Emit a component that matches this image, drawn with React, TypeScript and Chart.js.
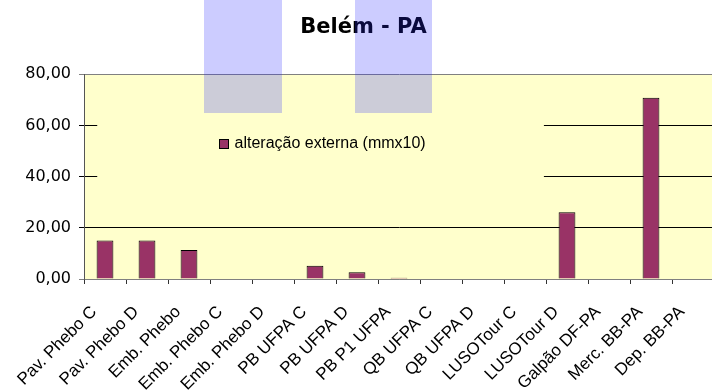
import React, { useEffect, useRef } from "react";
import { Chart, registerables } from "chart.js";

Chart.register(...registerables);

const chartTitle = "Belém - PA";
const seriesLabel = "alteração externa (mmx10)";
const categories = [
  "Pav. Phebo C",
  "Pav. Phebo D",
  "Emb. Phebo",
  "Emb. Phebo C",
  "Emb. Phebo D",
  "PB UFPA C",
  "PB UFPA D",
  "PB P1 UFPA",
  "QB UFPA C",
  "QB UFPA D",
  "LUSOTour C",
  "LUSOTour D",
  "Galpão DF-PA",
  "Merc. BB-PA",
  "Dep. BB-PA",
];
const values = [15, 15, 11.3, 0, 0, 5.2, 2.6, 0.5, 0, 0, 0, 26.1, 0, 70.8, 0];
const yMin = 0;
const yMax = 80;
const yStep = 20;

// translucent boxes that sit over the source picture (data units)
const overlayXFrom = [2.36, 5.95];
const overlayXTo = [4.21, 7.79];
const overlayYFrom = [64.8, 65];

const barColor = "#993366";
const plotColor = "#FFFFCC";

export default function App() {
  const ref = useRef<HTMLCanvasElement>(null);

  useEffect(() => {
    if (!ref.current) return;

    const plotBg = {
      id: "plotBg",
      beforeDraw(chart: any) {
        const { ctx, chartArea: a } = chart;
        ctx.save();
        ctx.fillStyle = plotColor;
        ctx.fillRect(a.left, a.top, a.right - a.left, a.bottom - a.top);
        ctx.restore();
      },
    };

    const legendBox = {
      id: "legendBox",
      beforeDatasetsDraw(chart: any) {
        const { ctx, chartArea: a } = chart;
        const w = a.right - a.left;
        const h = a.bottom - a.top;
        const bx0 = a.left + w * 0.021;
        const bx1 = a.left + w * 0.73;
        const by0 = a.top + h * 0.215;
        const by1 = a.top + h * 0.537;
        ctx.save();
        ctx.fillStyle = plotColor;
        ctx.fillRect(bx0, by0, bx1 - bx0, by1 - by0);
        const sx = Math.round(a.left + w * 0.214) + 0.5;
        const cy = a.top + h * 0.336;
        const sy = Math.round(cy - 4.5) + 0.5;
        ctx.fillStyle = barColor;
        ctx.fillRect(sx, sy, 9, 9);
        ctx.strokeStyle = "#000";
        ctx.lineWidth = 1;
        ctx.strokeRect(sx, sy, 9, 9);
        ctx.fillStyle = "#000";
        ctx.font = "16px 'Liberation Sans', Arial, sans-serif";
        ctx.textBaseline = "middle";
        ctx.textAlign = "left";
        ctx.fillText(seriesLabel, sx + 15, cy + 1);
        ctx.restore();
      },
    };

    const overlay = {
      id: "overlay",
      afterDraw(chart: any) {
        const { ctx } = chart;
        const xs = chart.scales.x;
        const ys = chart.scales.y;
        ctx.save();
        ctx.fillStyle = "rgba(42,42,255,0.24)";
        for (let i = 0; i < overlayXFrom.length; i++) {
          const x0 = Math.round(xs.getPixelForValue(overlayXFrom[i]));
          const x1 = Math.round(xs.getPixelForValue(overlayXTo[i]));
          const y1 = Math.round(ys.getPixelForValue(overlayYFrom[i]));
          ctx.fillRect(x0, 0, x1 - x0, y1);
        }
        ctx.restore();
      },
    };

    const chart = new Chart(ref.current, {
      type: "bar",
      data: {
        labels: categories,
        datasets: [
          {
            label: seriesLabel,
            data: values,
            backgroundColor: barColor,
            borderColor: "#000",
            borderWidth: 1,
            barPercentage: 0.4,
            categoryPercentage: 1,
          },
        ],
      },
      options: {
        responsive: false,
        animation: false,
        devicePixelRatio: 1,
        layout: { padding: { left: 13, right: 2, top: 0, bottom: 0 } },
        plugins: {
          legend: { display: false },
          tooltip: { enabled: false },
          title: {
            display: true,
            text: chartTitle,
            color: "#000",
            font: { family: "'DejaVu Sans', sans-serif", size: 21, weight: "bold" },
            padding: { top: 15, bottom: 34 },
          },
        },
        scales: {
          x: {
            grid: {
              drawOnChartArea: false,
              drawTicks: true,
              tickLength: 5,
              color: "#333",
              offset: true,
            },
            border: { color: "#808080", width: 1 },
            ticks: {
              autoSkip: false,
              maxRotation: 45,
              minRotation: 45,
              color: "#000",
              padding: 18,
              labelOffset: -11,
              font: { family: "'Liberation Sans', Arial, sans-serif", size: 17 },
            },
            afterFit(scale: any) {
              scale.height = 113;
              scale.paddingLeft = 0;
              scale.paddingRight = 0;
            },
          },
          y: {
            min: yMin,
            max: yMax,
            ticks: {
              stepSize: yStep,
              color: "#000",
              padding: 8,
              font: { family: "'DejaVu Sans', sans-serif", size: 16 },
              callback: (v: any) => Number(v).toFixed(2).replace(".", ","),
            },
            grid: {
              drawOnChartArea: true,
              drawTicks: true,
              tickLength: 5,
              color: (c: any) =>
                c.tick && (c.tick.value === yMax || c.tick.value === yMin) ? "#808080" : "#000",
            },
            border: { color: "#555", width: 1 },
            afterFit(scale: any) {
              scale.width = 71;
            },
          },
        },
      },
      plugins: [plotBg, legendBox, overlay],
    });

    return () => chart.destroy();
  }, []);

  return (
    <div
      style={{
        position: "fixed",
        left: 0,
        top: 0,
        width: 712,
        height: 392,
        overflow: "hidden",
        background: "#fff",
      }}
    >
      <canvas ref={ref} width={716} height={392} style={{ display: "block" }} />
    </div>
  );
}
